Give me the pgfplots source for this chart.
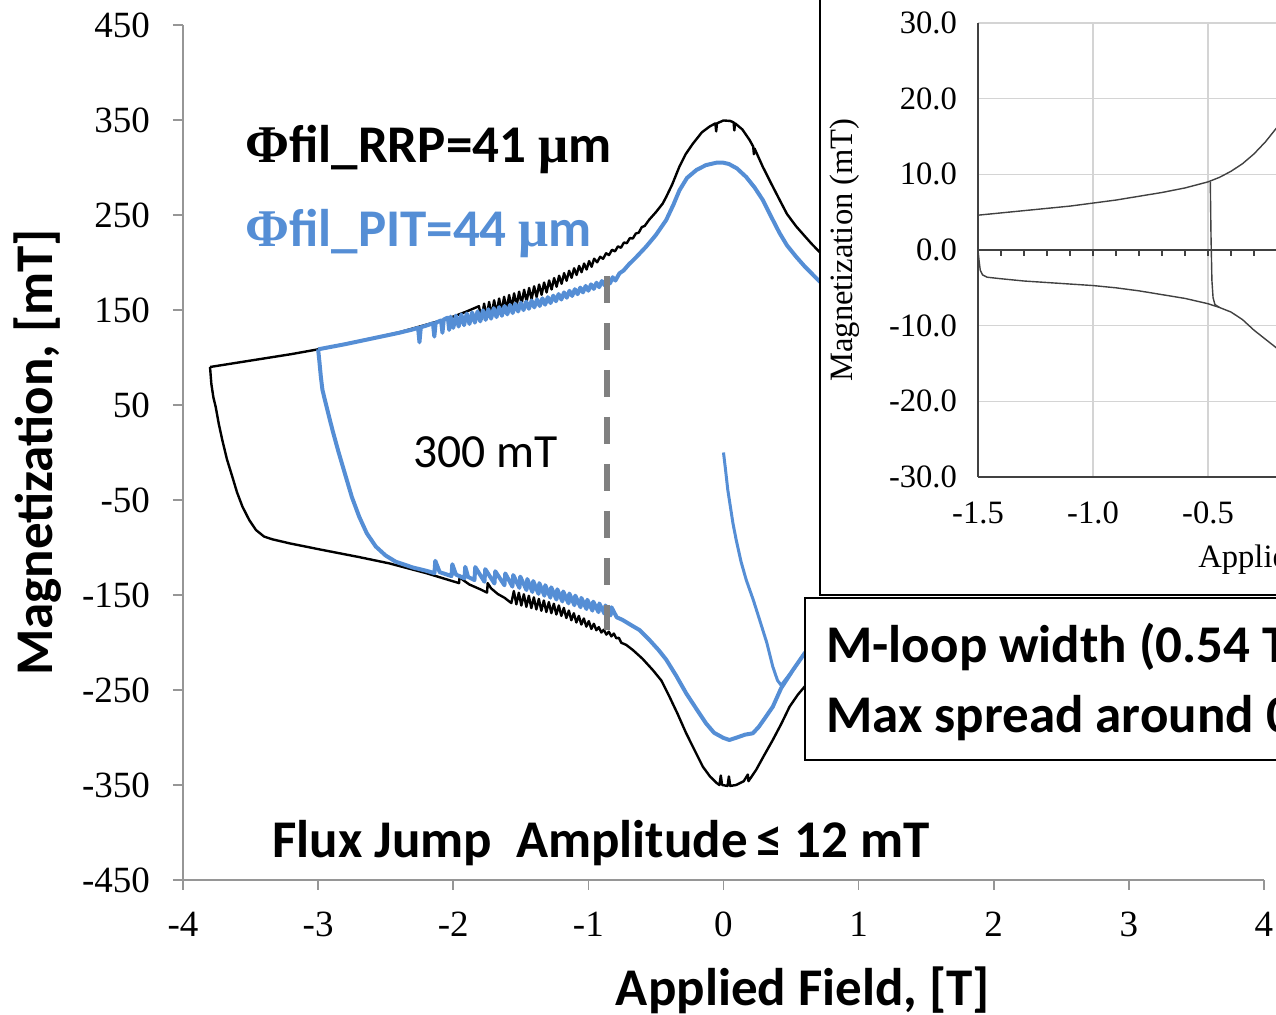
\documentclass[border=0pt]{standalone}
\usepackage{pgfplots}
\pgfplotsset{compat=1.18}
\usepackage{fontspec}
\setmainfont{Liberation Serif}
\newfontfamily\calib{Carlito}

\definecolor{pitblue}{RGB}{85,142,213}
\definecolor{axgray}{RGB}{150,150,150}
\definecolor{dashgray}{RGB}{128,128,128}
\definecolor{insetline}{RGB}{65,65,65}
\definecolor{gridgray}{RGB}{212,212,212}

\begin{document}
\begin{tikzpicture}
% main M(H) loops
\begin{axis}[
    scale only axis, width=540.5pt, height=427.5pt,
    xmin=-4, xmax=4, ymin=-450, ymax=450,
    axis lines*=left,
    axis line style={axgray, line width=0.8pt},
    xtick={-4,...,4}, ytick={-450,-350,...,450},
    tick align=outside, major tick length=5pt,
    tick style={axgray, line width=0.8pt},
    /pgf/number format/assume math mode=true,
    tick label style={font=\fontsize{18.5pt}{20pt}\selectfont},
    yticklabel style={xshift=-8pt},
    xticklabel style={yshift=-7.5pt},
    label style={font=\calib\bfseries\fontsize{26.5pt}{30pt}\selectfont},
    xlabel={Applied Field, [T]},
    ylabel={Magnetization, [mT]},
    xlabel style={at={(axis description cs:0.5735,-0.1287)}, anchor=center},
    ylabel style={at={(axis description cs:-0.134,0.5)}, anchor=center},
    line join=round,
]
% RRP, decreasing-field branch
\addplot[black, line width=1.2pt] coordinates {
(-3.80,90) (-3.60,94.5) (-3.40,99) (-3.20,103.5) (-3.00,108.6) (-2.80,114) (-2.60,120)
(-2.40,126.5) (-2.25,132.5) (-2.10,138.5) (-2.00,143) (-1.90,148.5) (-1.81,154)
(-1.7900,140.3) (-1.7715,156.7) (-1.7530,142.3) (-1.7345,158.5) (-1.7160,144.3) (-1.6975,160.2)
(-1.6790,146.3) (-1.6605,162.1) (-1.6420,148.3) (-1.6235,163.9) (-1.6050,150.3) (-1.5865,165.8)
(-1.5680,152.4) (-1.5495,167.5) (-1.5310,154.4) (-1.5125,169.3) (-1.4940,156.4) (-1.4755,171.3)
(-1.4570,158.8) (-1.4385,173.2) (-1.4200,161.2) (-1.4015,175.0) (-1.3830,163.6) (-1.3645,176.8)
(-1.3460,166.0) (-1.3275,178.9) (-1.3090,168.5) (-1.2905,181.1) (-1.2720,171.6) (-1.2535,183.6)
(-1.2350,174.5) (-1.2165,186.1) (-1.1980,177.6) (-1.1795,188.8) (-1.1610,180.8) (-1.1425,191.3)
(-1.1240,183.9) (-1.1055,193.9) (-1.0870,186.9) (-1.0685,196.4) (-1.0500,189.8) (-1.0315,198.9)
(-1.0130,192.6) (-0.9945,201.5) (-0.9760,195.5) (-0.9575,204.0)
(-0.935,200.2) (-0.913,206.0) (-0.891,203.9) (-0.869,209.7) (-0.847,207.8) (-0.825,213.4)
(-0.803,211.7) (-0.781,217.0) (-0.759,215.5) (-0.737,221.0) (-0.715,220.4) (-0.693,225.7)
(-0.671,225.3) (-0.649,230.5) (-0.627,231.4) (-0.605,237.2) (-0.583,238.5)
(-0.55,245) (-0.50,253) (-0.45,262) (-0.424,269) (-0.38,282)
(-0.326,301) (-0.28,314) (-0.227,325) (-0.16,337) (-0.104,343) (-0.06,346.5) (-0.054,338)
(-0.048,346.5) (0.0,349.5) (0.05,349) (0.075,347.5) (0.08,339) (0.086,346.5) (0.14,340)
(0.193,329) (0.22,322) (0.225,314) (0.23,320) (0.29,301) (0.35,284) (0.415,266) (0.47,251)
(0.538,238) (0.60,228) (0.65,220) (0.711,211) (0.76,204)
};
% RRP, increasing-field branch
\addplot[black, line width=1.2pt] coordinates {
(-3.80,90) (-3.79,72) (-3.775,58) (-3.758,48) (-3.735,30) (-3.709,13) (-3.675,-7)
(-3.635,-25.5) (-3.60,-42) (-3.56,-57) (-3.51,-71) (-3.46,-81.6) (-3.40,-88.5) (-3.338,-91.4)
(-3.20,-96) (-2.968,-102.6) (-2.70,-110) (-2.474,-116.7) (-2.20,-127) (-2.05,-133.5)
(-1.957,-137.5) (-1.952,-129.5) (-1.93,-134) (-1.88,-139) (-1.80,-144) (-1.75,-147.5)
(-1.745,-137.5) (-1.72,-143) (-1.67,-149) (-1.62,-153)
(-1.5700,-158.5) (-1.5515,-145.9) (-1.5330,-159.8) (-1.5145,-147.6) (-1.4960,-161.1)
(-1.4775,-149.2) (-1.4590,-162.5) (-1.4405,-150.8) (-1.4220,-163.8) (-1.4035,-152.5)
(-1.3850,-165.2) (-1.3665,-154.1) (-1.3480,-166.6) (-1.3295,-155.8) (-1.3110,-167.9)
(-1.2925,-157.5) (-1.2740,-169.1) (-1.2555,-159.2) (-1.2370,-170.5) (-1.2185,-161.0)
(-1.2000,-172.0) (-1.1815,-163.6) (-1.1630,-174.2) (-1.1445,-166.4) (-1.1260,-176.6)
(-1.1075,-169.2) (-1.0890,-178.9) (-1.0705,-172.0) (-1.0520,-181.1) (-1.0335,-174.7)
(-1.0150,-183.3) (-0.9965,-177.5) (-0.9780,-185.7) (-0.9595,-180.3) (-0.9410,-187.1)
(-0.9225,-183.8) (-0.9040,-189.5) (-0.8855,-186.5) (-0.8670,-191.7) (-0.8485,-188.6)
(-0.8300,-193.6) (-0.8115,-190.6) (-0.7930,-195.6) (-0.7745,-195.0) (-0.7560,-200.3)
(-0.72,-202.5) (-0.67,-208) (-0.60,-217) (-0.523,-229) (-0.46,-240) (-0.40,-257) (-0.34,-275)
(-0.276,-295.6) (-0.215,-313) (-0.153,-330.7) (-0.10,-341) (-0.05,-348) (-0.03,-350)
(-0.02,-340) (-0.01,-350) (0.03,-351) (0.04,-341) (0.05,-351) (0.094,-350) (0.15,-346)
(0.18,-339) (0.185,-346) (0.242,-334) (0.30,-319) (0.365,-302.6) (0.43,-285)
(0.489,-267.6) (0.55,-255) (0.60,-246.5) (0.65,-238)
};
% PIT, decreasing-field branch
\addplot[pitblue, line width=2pt] coordinates {
(-3.00,108.6) (-2.80,114) (-2.60,120) (-2.40,126) (-2.30,129.5) (-2.26,131.2) (-2.25,116)
(-2.24,131.8) (-2.19,134) (-2.15,136) (-2.14,122) (-2.13,136.6) (-2.09,139) (-2.08,126)
(-2.07,140) (-2.04,142) (-2.03,129) (-2.02,143)
(-2.00,131.2) (-1.98,144.1) (-1.96,132.6) (-1.94,145.2) (-1.92,134.0) (-1.90,146.3)
(-1.88,135.3) (-1.86,147.4) (-1.84,136.7) (-1.82,148.5) (-1.80,138.0) (-1.78,149.7)
(-1.76,139.6) (-1.74,150.8) (-1.72,140.9) (-1.70,151.9) (-1.68,142.5) (-1.66,153.0)
(-1.64,143.9) (-1.62,154.2) (-1.60,145.4) (-1.58,155.3) (-1.56,146.8) (-1.54,156.5)
(-1.52,148.4) (-1.50,157.7) (-1.48,149.9) (-1.46,158.8) (-1.44,151.3) (-1.42,160.0)
(-1.40,152.8) (-1.38,161.2) (-1.36,154.2) (-1.34,162.3) (-1.32,155.6) (-1.30,163.5)
(-1.28,157.3) (-1.26,165.1) (-1.24,159.2) (-1.22,166.8) (-1.20,161.0) (-1.18,168.5)
(-1.16,162.9) (-1.14,170.2) (-1.12,164.8) (-1.10,171.9) (-1.08,166.6) (-1.06,173.6)
(-1.04,168.5) (-1.02,175.3) (-1.00,170.3) (-0.98,177.0) (-0.96,172.2) (-0.94,178.7)
(-0.92,174.0) (-0.90,180.5) (-0.88,176.0) (-0.86,182.2) (-0.84,178.0) (-0.82,184.5)
(-0.80,181.0) (-0.77,188.6) (-0.74,191.5) (-0.70,198)
(-0.65,205) (-0.573,216.6) (-0.50,229) (-0.424,244.7) (-0.37,261) (-0.326,276)
(-0.27,289) (-0.20,297.4) (-0.13,302.5) (-0.054,305) (0.0,305) (0.04,303.7) (0.10,299)
(0.168,290) (0.23,279) (0.29,266) (0.35,249) (0.415,231) (0.47,218) (0.538,206)
(0.60,196) (0.70,181.6) (0.76,174)
};
% PIT, increasing-field branch
\addplot[pitblue, line width=2pt] coordinates {
(-3.00,108.6) (-2.99,95) (-2.98,80) (-2.968,65.8) (-2.93,44) (-2.894,23.7) (-2.85,1)
(-2.795,-25.5) (-2.75,-47) (-2.696,-67.6) (-2.64,-85) (-2.573,-99) (-2.50,-108.5)
(-2.425,-115) (-2.30,-121) (-2.20,-124.5)
(-2.139,-127.0) (-2.133,-114.0) (-2.10,-126) (-2.013,-130.1) (-2.007,-117.6) (-1.98,-128.5)
(-1.917,-132.5) (-1.911,-120.4) (-1.89,-131) (-1.843,-134.3) (-1.837,-120.6)
(-1.769,-136.1) (-1.763,-122.8) (-1.695,-137.9) (-1.689,-125.0) (-1.621,-139.8) (-1.615,-127.3)
(-1.562,-141.2) (-1.556,-129.0) (-1.510,-142.5) (-1.504,-130.6) (-1.458,-144.8) (-1.452,-133.2)
(-1.414,-146.8) (-1.408,-135.3) (-1.369,-148.8) (-1.363,-137.5) (-1.325,-150.8) (-1.319,-139.7)
(-1.281,-152.8) (-1.275,-141.9) (-1.236,-154.8) (-1.230,-144.0) (-1.192,-156.8) (-1.186,-146.3)
(-1.147,-158.8) (-1.141,-148.4) (-1.103,-160.8) (-1.097,-150.6) (-1.058,-162.9) (-1.052,-153.0)
(-1.014,-164.8) (-1.008,-155.0) (-0.970,-166.5) (-0.964,-157.0) (-0.925,-168.1) (-0.919,-158.9)
(-0.880,-169.8) (-0.874,-161.0) (-0.835,-171.4) (-0.829,-162.9)
(-0.79,-173.5) (-0.75,-176) (-0.68,-182) (-0.62,-187) (-0.55,-197) (-0.48,-208) (-0.424,-218)
(-0.35,-235) (-0.276,-253.5) (-0.20,-270) (-0.13,-285) (-0.07,-295) (0.0,-300.5)
(0.044,-302.6) (0.10,-300) (0.16,-297) (0.217,-295.6) (0.26,-289) (0.30,-281)
(0.365,-267.6) (0.427,-248) (0.514,-229) (0.60,-211.4) (0.65,-203)
};
% PIT, virgin curve
\addplot[pitblue, line width=1.5pt] coordinates {
(0.0,0) (0.015,-18) (0.032,-39.5) (0.07,-74.5) (0.094,-92) (0.13,-115) (0.168,-134)
(0.22,-155) (0.267,-176) (0.32,-200) (0.365,-225.5) (0.40,-240) (0.427,-245)
(0.47,-237) (0.514,-229) (0.60,-211)
};
% 300 mT marker
\addplot[dashgray, line width=3pt, dash pattern=on 13.5pt off 10pt] coordinates {(-0.86,185.8) (-0.86,-187)};
\end{axis}

% inset: reference loop
\draw[fill=white, line width=1pt] (318.5pt,142.5pt) rectangle (700pt,470pt);
\begin{axis}[
    at={(397.5pt,201.5pt)},
    scale only axis, width=345pt, height=227pt,
    xmin=-1.5, xmax=1.5, ymin=-30, ymax=30,
    xtick={-1.5,-1,-0.5,0,0.5,1,1.5}, ytick={-30,-20,...,30},
    grid=major, grid style={gridgray, line width=0.7pt},
    axis lines*=left,
    axis line style={insetline, line width=0.9pt},
    major tick length=0pt,
    /pgf/number format/.cd, fixed, fixed zerofill, precision=1, assume math mode=true,
    /pgfplots/.cd,
    tick label style={font=\fontsize{16.3pt}{18pt}\selectfont},
    yticklabel style={xshift=-7pt},
    xticklabel style={yshift=-9pt},
    label style={font=\fontsize{16.3pt}{18pt}\selectfont},
    xlabel={Applied Field (T)},
    ylabel={Magnetization (mT)},
    xlabel style={at={(axis description cs:0.486,-0.183)}, anchor=center},
    ylabel style={at={(axis description cs:-0.1928,0.5)}, anchor=center},
]
\addplot[insetline, line width=1pt] coordinates {(-1.5,0) (1.5,0)};
\pgfplotsinvokeforeach{-1.4,-1.3,-1.2,-1.1,-1.0,-0.9,-0.8,-0.7,-0.6,-0.5,-0.4,-0.3,-0.2,-0.1,0.0}{
  \draw[insetline, line width=0.8pt] (axis cs:#1,0) -- ++(0pt,-3pt);
}
\addplot[insetline, line width=0.7pt] coordinates {
(-1.5,4.6) (-1.4,4.9) (-1.3,5.2) (-1.2,5.5) (-1.1,5.8) (-1.0,6.2) (-0.9,6.6) (-0.8,7.1)
(-0.7,7.6) (-0.6,8.2) (-0.5,9.0) (-0.45,9.6) (-0.4,10.4) (-0.35,11.4) (-0.3,12.7)
(-0.25,14.3) (-0.2,16.2) (-0.15,18.6) (-0.1,21.5)
};
\addplot[insetline, line width=0.7pt] coordinates {
(-1.5,4.6) (-1.5,0) (-1.495,-1.5) (-1.49,-2.7) (-1.48,-3.3) (-1.46,-3.6) (-1.4,-3.8)
(-1.3,-4.1) (-1.2,-4.3) (-1.1,-4.5) (-1.0,-4.7) (-0.9,-5.0) (-0.8,-5.4) (-0.7,-5.9)
(-0.6,-6.4) (-0.5,-7.1) (-0.45,-7.6) (-0.4,-8.2) (-0.35,-9.2) (-0.3,-10.6) (-0.25,-11.8)
(-0.2,-13.0) (-0.15,-15.2) (-0.1,-18)
};
\addplot[insetline, line width=0.7pt] coordinates {
(-0.49,9.0) (-0.487,2) (-0.483,-4) (-0.478,-6.3) (-0.47,-7.2) (-0.45,-7.6)
};
\end{axis}

% annotations
\begin{scope}[font=\calib\bfseries\fontsize{26.5pt}{30pt}\selectfont]
\node[anchor=base west, inner sep=0pt] at (31pt,358.5pt) {{\rmfamily Φ}fil\_RRP=41 {\rmfamily μ}m};
\node[anchor=base west, inner sep=0pt, text=pitblue] at (31pt,316.5pt) {{\rmfamily Φ}fil\_PIT=44 {\rmfamily μ}m};
\node[anchor=base west, inner sep=0pt] at (44.5pt,11pt) {Flux Jump\ \ Amplitude\,≤ 12 mT};
\draw[fill=white, line width=1pt] (311pt,60pt) rectangle (700pt,141pt);
\node[anchor=base west, inner sep=0pt] at (321.5pt,108.5pt) {M-loop width (0.54 T)};
\node[anchor=base west, inner sep=0pt] at (321.5pt,73.5pt) {Max spread around 0 T};
\end{scope}
\node[anchor=base west, inner sep=0pt, font=\calib\fontsize{23.8pt}{27pt}\selectfont] at (115pt,206pt) {300 mT};

\pgfresetboundingbox
\useasboundingbox (-91.5pt,-67.5pt) rectangle (546.5pt,440pt);
\end{tikzpicture}
\end{document}
